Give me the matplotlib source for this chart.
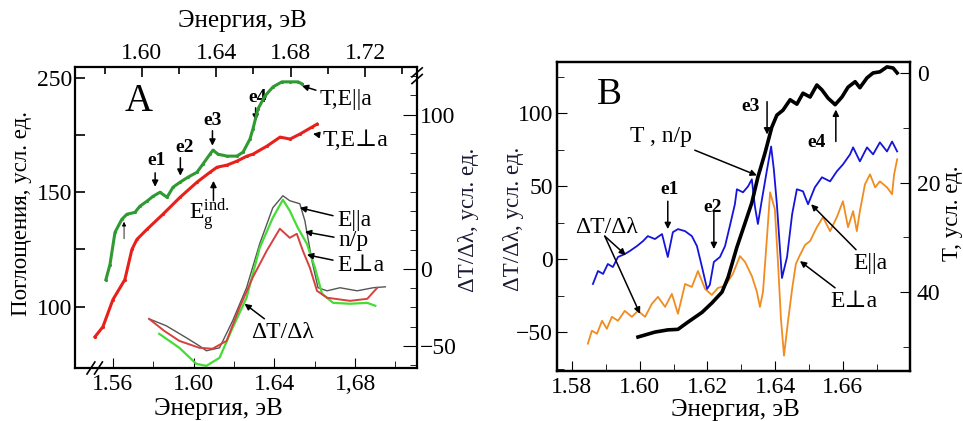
import numpy as np
import matplotlib
matplotlib.use("Agg")
import matplotlib.pyplot as plt
from matplotlib.ticker import FixedLocator, MultipleLocator

plt.rcParams['font.family'] = ['Liberation Serif', 'DejaVu Serif']
plt.rcParams['mathtext.fontset'] = 'stix'

# ---------- панель A: поглощение (верхняя ось энергии, левая ось) ----------
eA_par = [1.5806, 1.5828, 1.5855, 1.5892, 1.5919, 1.5962, 1.5989, 1.6027, 1.6059, 1.6097,
          1.6135, 1.6167, 1.6205, 1.6248, 1.6296, 1.6328, 1.6366, 1.6382, 1.6409, 1.6457,
          1.6511, 1.6544, 1.6581, 1.6597, 1.6624, 1.6662, 1.6705, 1.6753, 1.6797, 1.6840, 1.6861]
absA_par = [111.8, 118.4, 132.5, 138.2, 140.4, 141.2, 143.9, 146.1, 148.2, 150.0,
            147.8, 154.4, 158.8, 163.2, 167.5, 174.6, 183.3, 186.8, 183.3, 181.6,
            181.6, 185.1, 196.5, 205.3, 222.8, 234.2, 242.1, 246.5, 246.5, 246.5, 244.7]

eA_perp = [1.5747, 1.5790, 1.5844, 1.5908, 1.5946, 1.5973, 1.6027, 1.6113, 1.6205, 1.6296,
           1.6366, 1.6404, 1.6457, 1.6511, 1.6565, 1.6597, 1.6673, 1.6743, 1.6797, 1.6850,
           1.6915, 1.6942]
absA_perp = [86.8, 91.2, 103.1, 111.8, 125.0, 129.4, 133.8, 140.4, 147.8, 158.8,
             167.5, 171.9, 173.7, 177.2, 181.6, 183.3, 190.4, 198.2, 196.5, 200.9,
             207.0, 209.6]

# ---------- панель A: производные dT/dλ (нижняя ось, правая ось) ----------
eD_par = [1.5779, 1.5864, 1.5964, 1.6028, 1.6063, 1.6128, 1.6193, 1.6262, 1.6327, 1.6392,
          1.6442, 1.6476, 1.6526, 1.6551, 1.6586, 1.6616, 1.6661, 1.6725, 1.6810, 1.6890, 1.6950]
dA_par = [-32.5, -37.0, -44.8, -50.0, -53.2, -51.3, -33.8, -12.3, 16.2, 39.6,
          47.4, 44.2, 42.2, 31.2, 5.2, -12.3, -14.3, -12.3, -14.3, -12.3, -11.7]

eD_np = [1.5829, 1.5929, 1.6013, 1.6063, 1.6128, 1.6193, 1.6262, 1.6327, 1.6392, 1.6442,
         1.6476, 1.6516, 1.6561, 1.6601, 1.6636, 1.6691, 1.6775, 1.6860, 1.6900]
dA_np = [-42.2, -51.3, -61.7, -63.0, -57.8, -38.3, -18.8, 13.6, 33.1, 44.8,
         37.7, 26.6, 16.2, 0.6, -16.2, -22.1, -22.7, -22.1, -24.0]

eD_perp = [1.5779, 1.5854, 1.5929, 1.6028, 1.6093, 1.6163, 1.6227, 1.6292, 1.6362, 1.6427,
           1.6476, 1.6511, 1.6541, 1.6576, 1.6611, 1.6661, 1.6775, 1.6860, 1.6910]
dA_perp = [-32.5, -40.3, -46.8, -51.3, -51.9, -46.8, -25.3, -5.8, 11.7, 26.0,
           20.1, 22.7, 11.7, 0.6, -14.3, -18.8, -20.8, -19.5, -12.3]

# ---------- панель B ----------
eB_T = [1.5995, 1.6045, 1.6083, 1.6113, 1.6142, 1.6184, 1.6213, 1.6243, 1.6261, 1.6287,
        1.6311, 1.6331, 1.6349, 1.6370, 1.6390, 1.6405, 1.6423, 1.6444, 1.6464, 1.6482,
        1.6503, 1.6523, 1.6538, 1.6556, 1.6577, 1.6597, 1.6615, 1.6636, 1.6650, 1.6671,
        1.6689, 1.6709, 1.6730, 1.6748, 1.6760]
TB = [48.2, 47.3, 46.9, 46.8, 45.5, 43.7, 42.0, 40.0, 37.3, 31.8,
      27.4, 23.7, 19.0, 14.6, 9.9, 7.7, 6.8, 4.9, 5.7, 3.7,
      4.4, 2.2, 3.1, 4.6, 5.8, 4.4, 2.6, 1.6, 2.7, 0.9,
      0.0, -0.2, -1.1, -0.9, 0.0]

eB_par = [1.5862, 1.5877, 1.5892, 1.5906, 1.5921, 1.5936, 1.5956, 1.5971, 1.5992, 1.6010,
          1.6024, 1.6045, 1.6066, 1.6083, 1.6098, 1.6113, 1.6134, 1.6154, 1.6169, 1.6184,
          1.6199, 1.6207, 1.6219, 1.6237, 1.6252, 1.6266, 1.6281, 1.6287, 1.6305, 1.6320,
          1.6331, 1.6340, 1.6349, 1.6361, 1.6376, 1.6388, 1.6396, 1.6405, 1.6420, 1.6435,
          1.6450, 1.6464, 1.6482, 1.6497, 1.6517, 1.6538, 1.6562, 1.6582, 1.6600, 1.6621,
          1.6630, 1.6650, 1.6671, 1.6689, 1.6709, 1.6730, 1.6745, 1.6760]
dB_par = [-17.1, -8.2, -10.2, -3.4, -5.5, 1.4, 3.4, 5.5, 8.9, 12.3,
          15.7, 13.7, 17.1, 1.4, 18.4, 20.5, 19.1, 15.7, 8.9, -5.5,
          -20.5, -17.7, -2.0, 1.4, 8.9, 22.5, 37.5, 47.8, 45.7, 49.8,
          54.6, 36.2, 24.0, 41.0, 61.4, 77.1, 61.4, 37.5, -13.0, 1.4,
          30.7, 47.8, 46.4, 37.5, 49.1, 56.0, 53.2, 60.1, 64.8, 71.7,
          76.5, 66.9, 76.5, 71.7, 79.9, 73.7, 80.5, 73.7]

eB_perp = [1.5847, 1.5859, 1.5874, 1.5889, 1.5903, 1.5918, 1.5936, 1.5956, 1.5977, 1.5995,
           1.6016, 1.6036, 1.6054, 1.6075, 1.6095, 1.6113, 1.6134, 1.6154, 1.6172, 1.6193,
           1.6213, 1.6231, 1.6252, 1.6275, 1.6296, 1.6311, 1.6331, 1.6346, 1.6355, 1.6364,
           1.6376, 1.6385, 1.6399, 1.6408, 1.6417, 1.6426, 1.6438, 1.6450, 1.6461, 1.6473,
           1.6488, 1.6503, 1.6523, 1.6541, 1.6562, 1.6582, 1.6600, 1.6615, 1.6630, 1.6641,
           1.6650, 1.6665, 1.6680, 1.6695, 1.6709, 1.6730, 1.6745, 1.6751, 1.6760]
dB_perp = [-58.0, -49.1, -51.2, -42.3, -47.8, -39.6, -42.3, -35.5, -39.6, -35.5,
           -39.6, -30.7, -25.9, -32.8, -23.9, -37.5, -17.1, -19.1, -8.2, -20.5,
           -24.6, -19.8, -18.4, -10.2, 2.0, -2.0, -11.6, -22.5, -32.8, -22.5,
           15.7, 45.7, 34.1, -1.4, -41.0, -66.2, -42.3, -20.5, -3.4, 2.7,
           9.6, 12.3, 21.8, 28.7, 19.1, 28.7, 39.6, 21.8, 32.8, 19.1,
           32.8, 51.2, 58.0, 49.1, 53.2, 49.1, 44.4, 58.0, 68.3]

# нелинейная шкала левой оси панели A
y_nodes = [0, 100, 150, 250, 400]
p_nodes = [-4, 0, 2, 4, 7]
def fwd(v):
    return np.interp(v, y_nodes, p_nodes)
def inv(p):
    return np.interp(p, p_nodes, y_nodes)

TS = 17    # подписи делений
LS = 18    # подписи осей x
YS = 16.5  # подписи осей y
AS = 17    # надписи на графике
ES = 14    # e1..e4
fig = plt.figure(figsize=(9.63, 4.21), dpi=100)

def figtext(x, y, s, **kw):
    fig.text(x / 963, 1 - y / 421, s, ha='center', va='center', **kw)

# ====================== A ======================
rectA = [0.0779, 0.1259, 0.3552, 0.7150]
axd = fig.add_axes(rectA)
axa = fig.add_axes(rectA, frameon=False)
axa.patch.set_alpha(0)

axd.plot(eD_par, dA_par, color='#555555', lw=1.0)
axd.plot(eD_np, dA_np, color='#44dd33', lw=1.6)
axd.plot(eD_perp, dA_perp, color='#d84040', lw=1.4)
axd.set_xlim(1.5412, 1.7107)
axd.set_ylim(-64.4, 131)
axd.yaxis.tick_right()
axd.xaxis.set_major_locator(FixedLocator([1.56, 1.60, 1.64, 1.68]))
axd.set_xticklabels(['1.56', '1.60', '1.64', '1,68'])
axd.xaxis.set_minor_locator(FixedLocator([1.58, 1.62, 1.66, 1.70]))
axd.yaxis.set_major_locator(FixedLocator([-50, 0, 100]))
axd.yaxis.set_minor_locator(MultipleLocator(12.5))
axd.tick_params(axis='both', which='both', direction='in', labelsize=TS)
axd.tick_params(axis='y', which='major', length=10, pad=2)
axd.tick_params(axis='y', which='minor', length=5)
axd.tick_params(axis='x', which='major', length=7, pad=4)
axd.tick_params(axis='x', which='minor', length=5)
for s in axd.spines.values():
    s.set_linewidth(1.6)

axa.plot(eA_par, absA_par, color='#2f9a32', lw=2.2, marker='.', ms=2.5)
axa.plot(eA_perp, absA_perp, color='#e8201c', lw=2.2, marker='.', ms=2.5)
axa.set_yscale('function', functions=(fwd, inv))
axa.set_ylim(73.2, 259.5)
axa.set_xlim(1.564, 1.748)
axa.xaxis.tick_top()
axa.yaxis.tick_left()
axa.xaxis.set_major_locator(FixedLocator([1.60, 1.64, 1.68, 1.72]))
axa.set_xticklabels(['1.60', '1.64', '1.68', '1.72'])
axa.xaxis.set_minor_locator(FixedLocator([1.58, 1.62, 1.66, 1.70, 1.74]))
axa.yaxis.set_major_locator(FixedLocator([100, 150, 250]))
axa.yaxis.set_minor_locator(FixedLocator([125, 200]))
axa.yaxis.set_minor_formatter(plt.NullFormatter())
axa.set_yticklabels(['100', '150', '250'])
axa.tick_params(axis='both', which='both', direction='in', labelsize=TS, width=1.2)
axa.tick_params(axis='y', which='both', length=7, pad=2)
axa.tick_params(axis='x', which='major', length=7, pad=2)
axa.tick_params(axis='x', which='minor', length=5)

# разрывы осей
kw = dict(color='k', lw=1.2, clip_on=False, transform=axd.transAxes)
for dx in (0.0, 0.022):
    axd.plot([0.035 + dx, 0.058 + dx], [-0.02, 0.02], **kw)
for dy in (0.0, 0.022):
    axd.plot([0.985, 1.015], [0.945 + dy, 0.975 + dy], **kw)

axd.text(1.5729, 108.4, 'A', fontsize=28, ha='center', va='center')
arr = dict(arrowstyle='-|>', color='k', lw=1.1, mutation_scale=9, shrinkA=0, shrinkB=0)
for lab, xt, yt, ya0, ya1, xa in [('e1', 1.5814, 70.1, 62.3, 53.2, 1.5809),
                                  ('e2', 1.5954, 78.6, 72.1, 60.4, 1.5934),
                                  ('e3', 1.6093, 96.1, 89.6, 79.9, 1.6093),
                                  ('e4', 1.6317, 111.0, 104.5, 96.1, 1.6307)]:
    axd.text(xt, yt, lab, fontsize=ES, fontweight='bold', ha='center', va='center')
    axd.annotate('', xy=(xa, ya1), xytext=(xa, ya0), arrowprops=arr)
axd.annotate('', xy=(1.6098, 57.1), xytext=(1.6098, 44.2), arrowprops=arr)
axd.text(1.6078, 35.0, r'E$_\mathregular{g}^\mathregular{ind.}$', fontsize=AS, ha='center', va='center')
axd.annotate('', xy=(1.5655, 30.5), xytext=(1.5655, 19.5),
             arrowprops=dict(arrowstyle='-|>', color='k', lw=0.6, mutation_scale=6, shrinkA=0, shrinkB=0))

arr2 = dict(arrowstyle='-|>', color='k', lw=1.1, mutation_scale=9, shrinkA=1, shrinkB=0)
for lab, xt, yt, xh, yh in [('T,E||a', 1.6626, 109.7, 1.6536, 118.8),
                            ('T,E⊥a', 1.6641, 83.1, 1.6591, 87.6),
                            ('E||a', 1.6711, 31.2, 1.6526, 39.6),
                            ('n/p', 1.6716, 18.2, 1.6551, 24.0),
                            ('E⊥a', 1.6711, 1.9, 1.6561, 9.1),
                            ('ΔT/Δλ', 1.6287, -41.6, 1.6252, -22.7)]:
    axd.annotate(lab, xy=(xh, yh), xytext=(xt, yt), fontsize=AS, ha='left', va='center',
                 arrowprops=arr2)

figtext(242, 21, 'Энергия, эВ', fontsize=LS)
figtext(218, 409, 'Энергия, эВ', fontsize=LS)
figtext(22, 213, 'Поглощения, усл. ед.', rotation=90, fontsize=YS)
figtext(468, 220, 'ΔT/Δλ, усл. ед.', rotation=90, fontsize=YS, color='#1a1a33')

# ====================== B ======================
rectB = [0.5784, 0.1188, 0.3666, 0.7340]
axb = fig.add_axes(rectB)
axt = axb.twinx()
axb.plot(eB_perp, dB_perp, color='#f08c20', lw=1.3)
axb.plot(eB_par, dB_par, color='#1414dc', lw=1.3)
axt.plot(eB_T, TB, color='k', lw=2.6)
axb.set_xlim(1.5756, 1.6798)
axb.set_ylim(-76.7, 135)
axt.set_ylim(54.4, -2.0)
axb.set_xticks([1.58, 1.60, 1.62, 1.64, 1.66])
axb.set_xticklabels(['1.58', '1.60', '1.62', '1.64', '1.66'])
axb.xaxis.set_minor_locator(MultipleLocator(0.01))
axb.yaxis.set_major_locator(FixedLocator([-50, 0, 50, 100]))
axb.yaxis.set_minor_locator(MultipleLocator(25))
axt.yaxis.set_major_locator(FixedLocator([0, 20, 40]))
axt.yaxis.set_minor_locator(MultipleLocator(10))
for a in (axb, axt):
    a.tick_params(axis='both', which='both', direction='in', labelsize=TS)
    a.tick_params(which='major', length=7)
    a.tick_params(which='minor', length=5)
    for s in a.spines.values():
        s.set_linewidth(1.6)
axb.tick_params(axis='x', pad=4)
axb.tick_params(axis='y', pad=3)
axt.tick_params(axis='y', pad=5)

axb.text(1.5912, 112.6, 'B', fontsize=27, ha='center', va='center')
for lab, xt, yt, xa, ya0, ya1 in [('e1', 1.6089, 47.8, 1.6083, 39.6, 20.5),
                                  ('e2', 1.6216, 35.5, 1.6219, 32.1, 6.8),
                                  ('e3', 1.6326, 104.4, 1.6376, 107.8, 85.3),
                                  ('e4', 1.6523, 79.9, 1.6579, 80.5, 102.4)]:
    axb.text(xt, yt, lab, fontsize=ES, fontweight='bold', ha='center', va='center')
    axb.annotate('', xy=(xa, ya1), xytext=(xa, ya0), arrowprops=arr)

axb.annotate('T , n/p', xy=(1.6346, 57.3), xytext=(1.5971, 84.0), fontsize=AS,
             ha='left', va='center', arrowprops=arr2)
axb.text(1.5809, 21.8, 'ΔT/Δλ', fontsize=AS, ha='left', va='center')
axb.annotate('', xy=(1.5959, 2.7), xytext=(1.5897, 15.7), arrowprops=arr)
axb.annotate('', xy=(1.6001, -37.5), xytext=(1.5897, 15.7), arrowprops=arr)
axb.annotate('E||a', xy=(1.6506, 37.5), xytext=(1.6630, -3.4), fontsize=AS,
             ha='left', va='center', arrowprops=arr2)
axb.annotate('E⊥a', xy=(1.6473, -1.4), xytext=(1.6562, -29.4), fontsize=AS,
             ha='left', va='center', arrowprops=arr2)

figtext(735, 410, 'Энергия, эВ', fontsize=LS)
figtext(513, 219, 'ΔT/Δλ, усл. ед.', rotation=90, fontsize=YS, color='#1a1a33')
figtext(952, 213, 'T, усл. ед.', rotation=90, fontsize=YS)

fig.savefig('out.png', dpi=100)
